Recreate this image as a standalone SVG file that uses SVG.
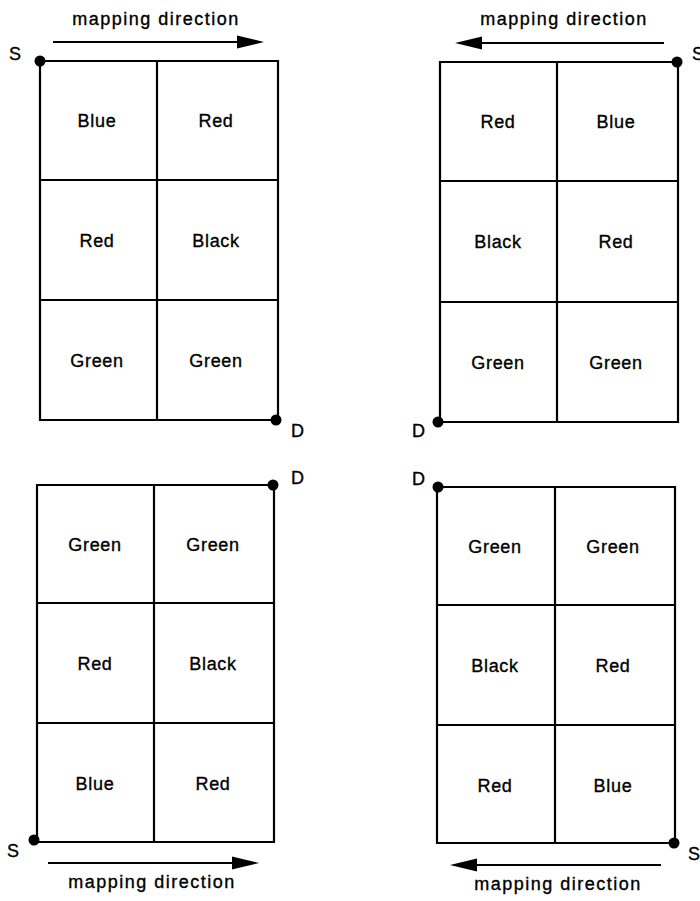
<svg xmlns="http://www.w3.org/2000/svg" width="700" height="901" viewBox="0 0 700 901">
<style>
.g{fill:none;stroke:#000;stroke-width:2.2}
.c{font-family:"Liberation Sans",Arial,sans-serif;font-size:18px;letter-spacing:0.7px;text-anchor:middle;fill:#000;stroke:#000;stroke-width:0.35}
.m{font-family:"Liberation Sans",Arial,sans-serif;font-size:18px;letter-spacing:1.5px;text-anchor:middle;fill:#000;stroke:#000;stroke-width:0.35}
.l{font-family:"Liberation Sans",Arial,sans-serif;font-size:18px;fill:#000;stroke:#000;stroke-width:0.35}
.a{stroke:#000;stroke-width:2.2;fill:none}
</style>
<rect width="700" height="901" fill="#fff"/>
<g id="grid-top-left">
<path class="g" d="M40 61H278V420H40Z M157 61V420 M40 180H278 M40 300H278"/>
<circle cx="40" cy="61" r="5.5"/><circle cx="276" cy="420" r="5.5"/>
<text class="l" x="9" y="60">S</text><text class="l" x="291" y="437">D</text>
<text class="c" x="97" y="127">Blue</text><text class="c" x="216" y="127">Red</text>
<text class="c" x="97" y="247">Red</text><text class="c" x="216" y="247">Black</text>
<text class="c" x="97" y="367">Green</text><text class="c" x="216" y="367">Green</text>
</g>
<g id="grid-top-right">
<path class="g" d="M440 62H678V422H440Z M557 62V422 M440 181H678 M440 302H678"/>
<circle cx="677" cy="62" r="5.5"/><circle cx="438" cy="422" r="5.5"/>
<text class="l" x="692" y="60">S</text><text class="l" x="412" y="437">D</text>
<text class="c" x="498" y="128">Red</text><text class="c" x="616" y="128">Blue</text>
<text class="c" x="498" y="248">Black</text><text class="c" x="616" y="248">Red</text>
<text class="c" x="498" y="369">Green</text><text class="c" x="616" y="369">Green</text>
</g>
<g id="grid-bottom-left">
<path class="g" d="M37 485H274V842H37Z M154 485V842 M37 603H274 M37 723H274"/>
<circle cx="273" cy="485" r="5.5"/><circle cx="34" cy="840" r="5.5"/>
<text class="l" x="291" y="484">D</text><text class="l" x="7" y="857">S</text>
<text class="c" x="95" y="551">Green</text><text class="c" x="213" y="551">Green</text>
<text class="c" x="95" y="670">Red</text><text class="c" x="213" y="670">Black</text>
<text class="c" x="95" y="790">Blue</text><text class="c" x="213" y="790">Red</text>
</g>
<g id="grid-bottom-right">
<path class="g" d="M437 487H675V843H437Z M555 487V843 M437 605H675 M437 725H675"/>
<circle cx="438" cy="487" r="5.5"/><circle cx="674" cy="843" r="5.5"/>
<text class="l" x="412" y="485">D</text><text class="l" x="688" y="860">S</text>
<text class="c" x="495" y="553">Green</text><text class="c" x="613" y="553">Green</text>
<text class="c" x="495" y="672">Black</text><text class="c" x="613" y="672">Red</text>
<text class="c" x="495" y="792">Red</text><text class="c" x="613" y="792">Blue</text>
</g>
<g id="connectors">
<line class="a" x1="53" y1="42" x2="240" y2="42"/><polygon points="264,42 237,35.5 237,48.5"/>
<line class="a" x1="664" y1="43" x2="480" y2="43"/><polygon points="455,43 482,36.5 482,49.5"/>
<line class="a" x1="48" y1="863" x2="235" y2="863"/><polygon points="259,863 232,856.5 232,869.5"/>
<line class="a" x1="661" y1="865" x2="475" y2="865"/><polygon points="450,865 477,858.5 477,871.5"/>
</g>
<g id="labels">
<text class="m" x="156" y="25">mapping direction</text>
<text class="m" x="564" y="25">mapping direction</text>
<text class="m" x="152" y="888">mapping direction</text>
<text class="m" x="558" y="890">mapping direction</text>
</g>
</svg>
